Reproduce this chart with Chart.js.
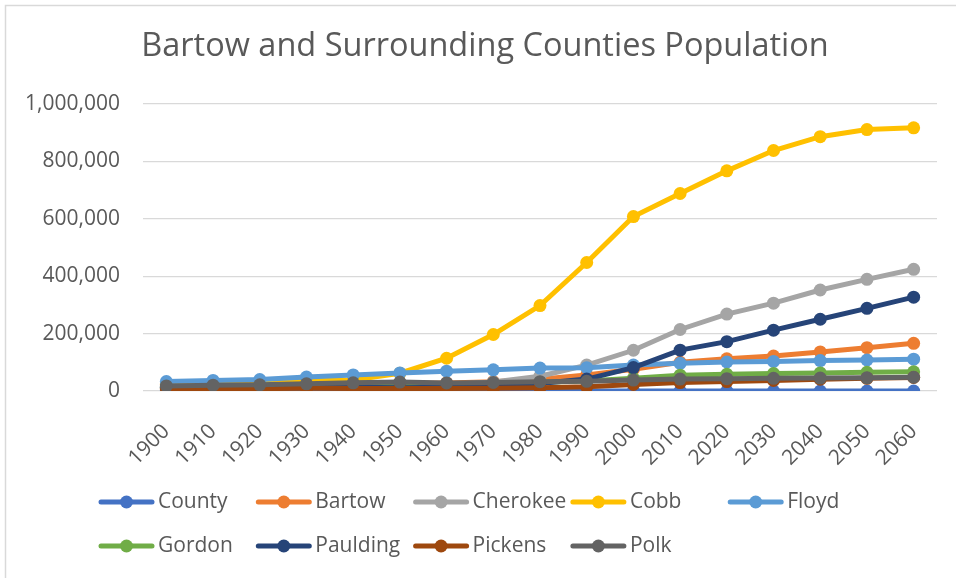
<!DOCTYPE html>
<html>
<head>
<meta charset="utf-8">
<title>Bartow and Surrounding Counties Population</title>
<script src="https://cdn.jsdelivr.net/npm/chart.js@4"></script>
<style>
  html, body { margin: 0; padding: 0; background: #fff; overflow: hidden; }
  #wrap { width: 956px; height: 578px; position: relative; }
</style>
</head>
<body>
<div id="wrap"><canvas id="pop-chart" width="956" height="578"></canvas></div>
<script>
const years = ['1900', '1910', '1920', '1930', '1940', '1950', '1960', '1970', '1980',
               '1990', '2000', '2010', '2020', '2030', '2040', '2050', '2060'];

const county   = [0, 0, 0, 0, 0, 0, 0, 0, 0, 0, 0, 0, 0, 0, 0, 0, 0];
const bartow   = [20823, 25388, 24527, 25364, 25283, 27370, 28267, 32663, 40760, 55911, 76019, 100157, 112000, 122000, 136000, 151000, 166000];
const cherokee = [15243, 16661, 18569, 20003, 20126, 20750, 23001, 31059, 51699, 90204, 141903, 214346, 268000, 306000, 352000, 389000, 424000];
const cobb     = [24664, 28397, 30437, 35408, 38272, 61830, 114174, 196793, 297718, 447745, 607751, 688078, 767000, 838000, 886000, 911000, 917000];
const floyd    = [33113, 36736, 39841, 48677, 56141, 62899, 69130, 73742, 79800, 81251, 90565, 96317, 101000, 103000, 106000, 108000, 111000];
const gordon   = [14119, 15861, 17736, 16846, 18445, 18922, 19228, 23570, 30070, 35072, 44104, 55186, 58000, 61000, 63000, 65000, 67000];
const paulding = [12969, 14013, 12401, 12834, 12832, 11752, 13101, 17520, 26042, 41611, 81678, 142324, 172000, 212000, 250000, 288000, 327000];
const pickens  = [8641, 9041, 8222, 9687, 9136, 8855, 8903, 9620, 11652, 14432, 22983, 29431, 33000, 37000, 41000, 44000, 47000];
const polk     = [17856, 20203, 21617, 25141, 28467, 30976, 28015, 29656, 32386, 33815, 38127, 41475, 43000, 44000, 45000, 46000, 48000];

const seriesNames = ['County', 'Bartow', 'Cherokee', 'Cobb', 'Floyd', 'Gordon', 'Paulding', 'Pickens', 'Polk'];
const seriesValues = [county, bartow, cherokee, cobb, floyd, gordon, paulding, pickens, polk];
const colors = ['#4472C4', '#ED7D31', '#A5A5A5', '#FFC000', '#5B9BD5', '#70AD47', '#264478', '#9E480E', '#636363'];

const titleText = 'Bartow and Surrounding Counties Population';
const textColor = '#595959';
const fontFamily = '"Open Sans", "Liberation Sans", sans-serif';

const datasets = seriesNames.map(function(name, i) {
  return {
    label: name,
    data: seriesValues[i],
    borderColor: colors[i],
    backgroundColor: colors[i],
    borderWidth: 5,
    pointRadius: 6.5,
    pointHoverRadius: 6.5,
    pointBorderWidth: 0,
    tension: 0,
    // first series sits underneath, last one on top
    order: seriesNames.length - i
  };
});

// title, frame and a legend laid out on a fixed grid, five per row
const chartDecor = {
  id: 'chartDecor',
  afterDraw(chart) {
    const ctx = chart.ctx;
    ctx.save();

    ctx.font = '32.5px ' + fontFamily;
    ctx.fillStyle = textColor;
    ctx.textAlign = 'center';
    ctx.textBaseline = 'middle';
    ctx.fillText(titleText, 485, 47);

    const colW = 157.3;
    const x0 = 99;
    const rows = [502, 546];
    ctx.font = '21px ' + fontFamily;
    ctx.textAlign = 'left';
    chart.data.datasets.forEach(function(ds, i) {
      const x = x0 + (i % 5) * colW;
      const y = rows[Math.floor(i / 5)];
      ctx.strokeStyle = ds.borderColor;
      ctx.lineWidth = 5;
      ctx.lineCap = 'round';
      ctx.beginPath();
      ctx.moveTo(x + 2, y);
      ctx.lineTo(x + 53, y);
      ctx.stroke();
      ctx.fillStyle = ds.borderColor;
      ctx.beginPath();
      ctx.arc(x + 27.5, y, 6.5, 0, Math.PI * 2);
      ctx.fill();
      ctx.fillStyle = textColor;
      ctx.fillText(ds.label, x + 59, y);
    });

    ctx.strokeStyle = '#d9d9d9';
    ctx.lineWidth = 1.5;
    ctx.strokeRect(5.5, 5.5, 1000, 700);
    ctx.restore();
  }
};

const config = {
  type: 'line',
  data: { labels: years, datasets: datasets },
  options: {
    responsive: false,
    animation: false,
    events: [],
    layout: { padding: { top: 104, right: 19, bottom: 0, left: 0 } },
    plugins: {
      legend: { display: false },
      tooltip: { enabled: false },
      title: { display: false }
    },
    scales: {
      x: {
        offset: true,
        grid: { display: false },
        border: { display: false },
        ticks: {
          color: textColor,
          font: { family: fontFamily, size: 21 },
          minRotation: 45,
          maxRotation: 45,
          autoSkip: false,
          padding: 20
        },
        afterFit: function(scale) { scale.height = 187; }
      },
      y: {
        min: 0,
        max: 1000000,
        ticks: {
          stepSize: 200000,
          color: textColor,
          font: { family: fontFamily, size: 21 },
          padding: 23,
          callback: function(value) { return value.toLocaleString('en-US'); }
        },
        grid: { color: '#d9d9d9', lineWidth: 1.3, drawTicks: false },
        border: { display: false },
        afterFit: function(scale) { scale.width = 143; }
      }
    }
  },
  plugins: [chartDecor]
};

const myChart = new Chart(document.getElementById('pop-chart'), config);
</script>
</body>
</html>
